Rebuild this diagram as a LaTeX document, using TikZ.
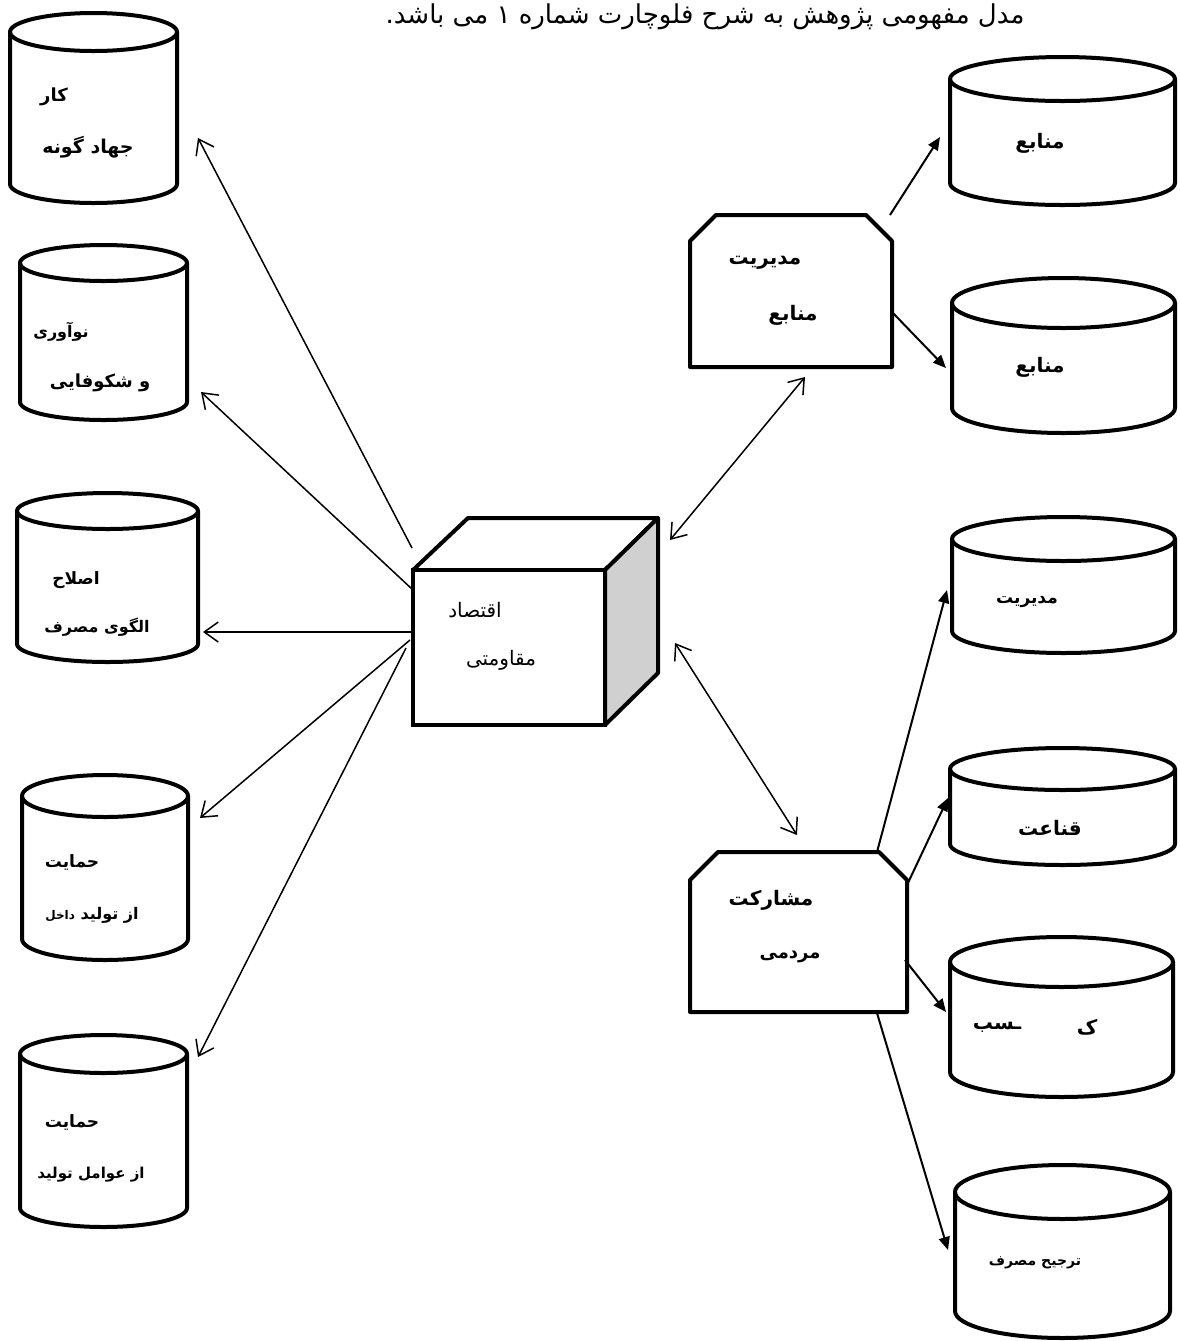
\documentclass[tikz,border=0pt]{standalone}
\usepackage{fontspec}
\usepackage{tikz}
\usetikzlibrary{positioning,arrows.meta}
\newfontfamily\arabicfont[Script=Arabic]{DejaVu Sans}
\TeXXeTstate=1
\newcommand{\prs}[1]{\beginR #1\endR}
\definecolor{cubeside}{RGB}{208,208,208}

\tikzset{
  base/.style={rectangle, inner sep=0pt, outer sep=0pt},
  outline/.style={draw, line width=2pt, line join=round},
  lbl/.style={inner sep=0pt, font=\arabicfont\bfseries\fontsize{#1}{#1}\selectfont},
  lbl/.default=10,
  txt/.style={inner sep=0pt, font=\arabicfont\fontsize{#1}{#1}\selectfont},
  link/.style={line width=0.75pt, -{Straight Barb[length=7pt,width=10pt]}},
  twoway/.style={line width=0.75pt, {Straight Barb[length=7pt,width=10pt]}-{Straight Barb[length=7pt,width=10pt]}},
  feed/.style={line width=1pt, -{Triangle[length=6.5pt,width=5.5pt]}}
}

% drum: name, position, width, height, end radius
\newcommand{\drum}[5]{%
  \node[base, minimum width=#3*0.5pt, minimum height=#4*0.5pt] (#1) at (#2) {};
  \draw[outline, fill=white] ([shift={({-#3/2},{#4/2-#5})}]#1.center) -- ++(0,{2*#5-#4})
    arc[start angle=180, end angle=360, x radius={#3/2}, y radius=#5] -- ++(0,{#4-2*#5})
    arc[start angle=0, end angle=180, x radius={#3/2}, y radius=#5] -- cycle;
  \draw[outline] ([shift={({-#3/2},{#4/2-#5})}]#1.center)
    arc[start angle=180, end angle=360, x radius={#3/2}, y radius=#5];
}
% box with cut top corners: name, position, width, height, cut
\newcommand{\hexbox}[5]{%
  \node[base, minimum width=#3*0.5pt, minimum height=#4*0.5pt] (#1) at (#2) {};
  \draw[outline] (#1.south west) -- ([shift={(0,-#5)}]#1.north west)
    -- ([shift={(#5,0)}]#1.north west) -- ([shift={(-#5,0)}]#1.north east)
    -- ([shift={(0,-#5)}]#1.north east) -- (#1.south east) -- cycle;
}

\begin{document}
\begin{tikzpicture}[x=0.5pt, y=0.5pt]
  \useasboundingbox (0,0) rectangle (1180,-1341);
  % Title
  \node[txt=13, anchor=base] (title) at (705,-23) {\prs{مدل مفهومی پژوهش به شرح فلوچارت شماره ۱ می باشد.}};

  % Define nodes
  \node[base, draw, line width=2pt, minimum width=96pt, minimum height=77.5pt] (front) at (509,-647.5) {};
  \draw[outline] (front.north west) -- ++(55,52) -- ++(190,0) -- (front.north east);
  \draw[outline, fill=cubeside] (front.north east) -- ++(53,52) -- ++(0,-155)
    -- (front.south east) -- cycle;
  \node[txt=10] (eco1) at (475,-610) {\prs{اقتصاد}};
  \node[txt=10] (eco2) at (501,-660) {\prs{مقاومتی}};

  \hexbox{res}{791,-291}{202}{152}{26}
  \node[lbl] (res1) at (765,-263) {\prs{مدیریت}};
  \node[lbl] (res2) at (793,-315) {\prs{منابع}};

  \hexbox{pub}{798.5,-932}{217}{160}{28}
  \node[lbl] (pub1) at (771,-900) {\prs{مشارکت}};
  \node[lbl=9] (pub2) at (790,-957) {\prs{مردمی}};

  % left drums
  \drum{work}{93.5,-108}{167}{190}{19}
  \node[lbl=9] (work1) at (54,-97) {\prs{کار}};
  \node[lbl=9.5] (work2) at (88,-147) {\prs{جهاد گونه}};

  \drum{inno}{103.5,-332.5}{167}{175}{18}
  \node[lbl=8] (inno1) at (61,-332) {\prs{نوآوری}};
  \node[lbl=9] (inno2) at (100,-383) {\prs{و شکوفایی}};

  \drum{patt}{107.5,-577.5}{181}{169}{18}
  \node[lbl=8.5] (patt1) at (76,-580) {\prs{اصلاح}};
  \node[lbl=8] (patt2) at (97,-627) {\prs{الگوی مصرف}};

  \drum{home}{105,-867.5}{166}{185}{21}
  \node[lbl=8.5] (home1) at (72,-862) {\prs{حمایت}};
  \node[lbl=8] (home2) at (92,-915) {\prs{از تولید {\fontsize{6}{6}\selectfont داخل}}};

  \drum{fact}{103.5,-1131}{167}{192}{19}
  \node[lbl=8.5] (fact1) at (72,-1122) {\prs{حمایت}};
  \node[lbl=7.5] (fact2) at (91,-1175) {\prs{از عوامل تولید}};

  % right drums
  \drum{src1}{1062.5,-131}{225}{148}{22}
  \node[lbl] (src1t) at (1040,-143) {\prs{منابع}};
  \drum{src2}{1063.5,-355.5}{223}{155}{25}
  \node[lbl] (src2t) at (1040,-367) {\prs{منابع}};
  \drum{mgmt}{1063.5,-585}{223}{136}{22}
  \node[lbl=8.5] (mgmtt) at (1027,-602) {\prs{مدیریت}};
  \drum{cont}{1062.5,-806.5}{225}{117}{21}
  \node[lbl] (contt) at (1050,-828) {\prs{قناعت}};
  \drum{earn}{1061.5,-1017}{223}{160}{25}
  \node[lbl] (earna) at (1087,-1027) {\prs{ک}};
  \node[lbl] (earnb) at (997,-1027) {\prs{ـسب}};
  \drum{pref}{1062.5,-1251.5}{215}{173}{27}
  \node[lbl=7] (preft) at (1035,-1263) {\prs{ترجیح مصرف}};

  % Connect nodes
  \draw[link] ([shift={(-97,99.5)}]front.center) -- ([shift={(104.5,-30)}]work.center);
  \draw[link] ([shift={(-96,57.5)}]front.center) -- ([shift={(97.5,-59.5)}]inno.center);
  \draw[link] ([shift={(-96,15.5)}]front.center) -- ([shift={(95.5,-54.5)}]patt.center);
  \draw[link] ([shift={(-99,7.5)}]front.center) -- ([shift={(95,49.5)}]home.center);
  \draw[link] ([shift={(-103,-0.5)}]front.center) -- ([shift={(94.5,74)}]fact.center);
  \draw[twoway] ([shift={(161,107.5)}]front.center) -- ([shift={(14,-86)}]res.center);
  \draw[twoway] ([shift={(166,4.5)}]front.center) -- ([shift={(-1.5,97)}]pub.center);
  \draw[feed] ([shift={(99,76)}]res.center) -- ([shift={(-122.5,-6)}]src1.center);
  \draw[feed] ([shift={(101,-21)}]res.center) -- ([shift={(-117.5,-12.5)}]src2.center);
  \draw[feed] ([shift={(78.5,80)}]pub.center) -- ([shift={(-116.5,-5)}]mgmt.center);
  \draw[feed] ([shift={(108.5,47)}]pub.center) -- ([shift={(-114.5,8.5)}]cont.center);
  \draw[feed] ([shift={(106.5,-28)}]pub.center) -- ([shift={(-115.5,5)}]earn.center);
  \draw[feed] ([shift={(78.5,-81)}]pub.center) -- ([shift={(-114.5,1.5)}]pref.center);
\end{tikzpicture}
\end{document}
